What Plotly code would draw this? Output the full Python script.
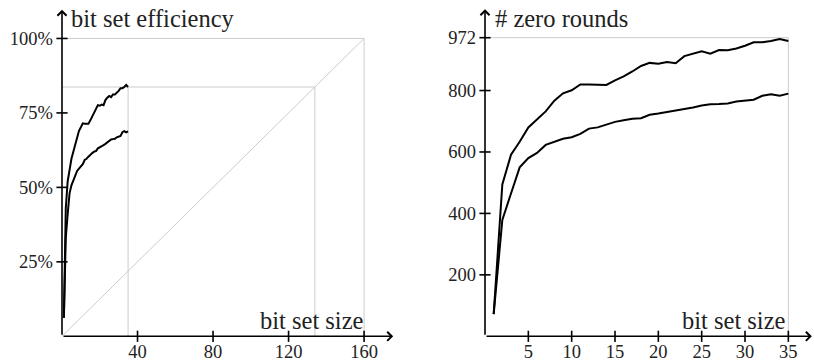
import plotly.graph_objects as go

# ---------------- data ----------------
sizes = list(range(1, 36))

eff_upper = [6.2, 43, 52, 56, 59.6, 62, 64.2, 67, 69, 70.2, 71.5, 71.4, 71.4, 71.4, 72.5,
             73.8, 75.2, 76.8, 77.6, 77.4, 77.8, 77.6, 79.3, 80.1, 80.7, 80.3, 81.2, 81.2,
             81.7, 82.4, 83.3, 83.3, 83.7, 84.4, 83.7]
eff_lower = [6.2, 33, 41, 48, 50.7, 52.3, 54.5, 55.5, 56.3, 57.2, 57.8, 59.2, 59.6, 60.3,
             61.1, 61.5, 62, 62.2, 63.1, 63.4, 63.8, 64.2, 64.6, 65.2, 65.7, 66.1, 66.2,
             66.3, 66.8, 67.1, 67.3, 68.5, 68.9, 68.5, 68.8]

rounds_upper = [72, 494, 591, 633, 680, 705, 732, 767, 791, 801, 820, 820, 819, 818, 833,
                846, 862, 880, 890, 887, 893, 889, 912, 920, 928, 920, 932, 931, 937, 946,
                957, 957, 961, 968, 961]
rounds_lower = [72, 379, 465, 550, 580, 597, 623, 633, 643, 648, 659, 676, 680, 689, 698,
                703, 708, 710, 721, 725, 730, 734, 738, 745, 751, 755, 756, 758, 764, 767,
                770, 783, 788, 783, 790]

eff_tick_vals = [25, 50, 75, 100]
eff_tick_text = ["25%", "50%", "75%", "100%"]
left_x_ticks = [40, 80, 120, 160]
right_x_ticks = [5, 10, 15, 20, 25, 30, 35]
round_ticks = [200, 400, 600, 800, 972]
max_size = 160
max_eff = 100
max_rounds = 972
last_size = 35

# ---------------- style ----------------
W, H = 814, 362
FONT = "Liberation Serif"
TXT = "#222222"
GRAY = "#cccccc"
TICK_FS = 18.5
TITLE_FS = 24.5

# pixel geometry
L_X0, L_X1 = 62, 396
R_X0, R_X1 = 485, 814
Y_BOT, Y_TOP = 341, 9
L_XSCALE = 1.888   # px per size unit
L_YSCALE = 3.02    # px per percent
R_XSCALE = 8.667
R_YSCALE = 0.3115

l_xmax = (L_X1 - L_X0) / L_XSCALE
l_ymax = (Y_BOT - Y_TOP) / L_YSCALE
r_xmax = (R_X1 - R_X0) / R_XSCALE
r_ymax = (Y_BOT - Y_TOP) / R_YSCALE

fig = go.Figure()


def line(xs, ys, xa, ya, color, width):
    fig.add_trace(go.Scatter(x=xs, y=ys, mode="lines", xaxis=xa, yaxis=ya,
                             line=dict(color=color, width=width),
                             hoverinfo="skip", showlegend=False))


# left guides
end_eff = eff_upper[-1]
diag_x = max_size * end_eff / max_eff
line([0, max_size, max_size], [max_eff, max_eff, 0], "x", "y", GRAY, 1)
line([0, max_size], [0, max_eff], "x", "y", GRAY, 1)
line([0, diag_x, diag_x], [end_eff, end_eff, 0], "x", "y", GRAY, 1)
line([last_size, last_size], [0, end_eff], "x", "y", GRAY, 1)
# right guides
line([0, last_size, last_size], [max_rounds, max_rounds, 0], "x2", "y2", GRAY, 1)

# data
line(sizes, eff_upper, "x", "y", "black", 2)
line(sizes, eff_lower, "x", "y", "black", 2)
line(sizes, rounds_upper, "x2", "y2", "black", 2)
line(sizes, rounds_lower, "x2", "y2", "black", 2)

# tick marks crossing axes
def ticks(xs, ys, xa, ya, sym):
    fig.add_trace(go.Scatter(x=xs, y=ys, mode="markers", xaxis=xa, yaxis=ya,
                             marker=dict(symbol=sym, size=8, color="black",
                                         line=dict(color="black", width=1.6)),
                             hoverinfo="skip", showlegend=False, cliponaxis=False))

ticks(left_x_ticks, [0] * len(left_x_ticks), "x", "y", "line-ns-open")
ticks([0] * len(eff_tick_vals), eff_tick_vals, "x", "y", "line-ew-open")
ticks(right_x_ticks, [0] * len(right_x_ticks), "x2", "y2", "line-ns-open")
ticks([0] * len(round_ticks), round_ticks, "x2", "y2", "line-ew-open")

# axis arrows
def arrow(x, y, ax, ay, xa, ya):
    fig.add_annotation(x=x, y=y, ax=ax, ay=ay, xref=xa, yref=ya, axref=xa, ayref=ya,
                       text="", showarrow=True, arrowhead=4, arrowsize=1.1,
                       arrowwidth=1.6, arrowcolor="black", standoff=0, startstandoff=0)

arrow(l_xmax - 1.5, 0, 0, 0, "x", "y")
arrow(0, l_ymax - 0.3, 0, 0, "x", "y")
arrow(r_xmax - 0.25, 0, 0, 0, "x2", "y2")
arrow(0, r_ymax - 1.5, 0, 0, "x2", "y2")

# axis titles
def label(text, x, y, xanchor):
    fig.add_annotation(text=text, x=x / W, y=1 - y / H, xref="paper", yref="paper",
                       xanchor=xanchor, yanchor="middle", showarrow=False,
                       font=dict(family=FONT, size=TITLE_FS, color=TXT))

label("bit set efficiency", 69, 19, "left")
label("# zero rounds", 493, 19, "left")
label("bit set size", 366, 325, "right")
label("bit set size", 788, 325, "right")

axis_common = dict(showgrid=False, zeroline=False, showline=False, ticks="",
                   tickfont=dict(family=FONT, size=TICK_FS, color=TXT))

fig.update_layout(
    width=W, height=H,
    margin=dict(l=0, r=0, t=0, b=0),
    paper_bgcolor="white", plot_bgcolor="white",
    showlegend=False,
    xaxis=dict(domain=[L_X0 / W, L_X1 / W], range=[0, l_xmax], anchor="y",
               tickvals=left_x_ticks, ticklabelstandoff=2, **axis_common),
    yaxis=dict(domain=[1 - Y_BOT / H, 1 - Y_TOP / H], range=[0, l_ymax], anchor="x",
               tickvals=eff_tick_vals, ticktext=eff_tick_text, ticklabelstandoff=8,
               **axis_common),
    xaxis2=dict(domain=[R_X0 / W, R_X1 / W], range=[0, r_xmax], anchor="y2",
                tickvals=right_x_ticks, ticklabelstandoff=2, **axis_common),
    yaxis2=dict(domain=[1 - Y_BOT / H, 1 - Y_TOP / H], range=[0, r_ymax], anchor="x2",
                tickvals=round_ticks, ticklabelstandoff=8, **axis_common),
)

fig.write_html("out.html", config={"displayModeBar": False, "staticPlot": True},
               post_script="document.body.style.margin='0px';document.body.style.overflow='hidden';")
